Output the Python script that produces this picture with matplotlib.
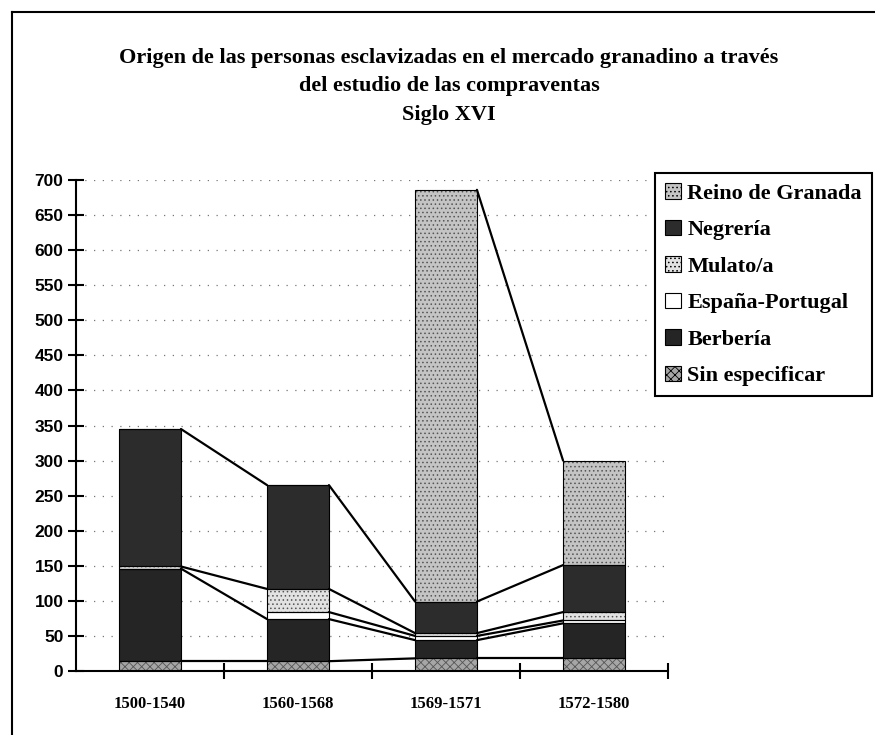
import matplotlib.pyplot as plt
import numpy as np
from matplotlib.patches import Patch
from matplotlib.lines import Line2D

# DATA
categories = ['1500-1540', '1560-1568', '1569-1571', '1572-1580']
sin_especificar = [14, 14, 18, 18]
berberia = [132, 60, 26, 50]
espana_portugal = [0, 10, 6, 4]
mulato = [3, 33, 4, 12]
negreria = [196, 148, 45, 67]
reino_granada = [0, 0, 587, 149]

series_names = ['Sin especificar', 'Berbería', 'España-Portugal',
                'Mulato/a', 'Negrería', 'Reino de Granada']
series_values = [sin_especificar, berberia, espana_portugal,
                 mulato, negreria, reino_granada]

# grey scan look
face = ['#a6a6a6', '#252525', '#ffffff', '#e2e2e2', '#2c2c2c', '#c4c4c4']
hatches = ['xxxx', None, None, '....', None, '....']

TITLE = ['Origen de las personas esclavizadas en el mercado granadino a través',
         'del estudio de las compraventas',
         'Siglo XVI']

plt.rcParams['hatch.color'] = '#555555'
plt.rcParams['hatch.linewidth'] = 0.6

W, H = 875, 735
fig = plt.figure(figsize=(W / 100, H / 100), dpi=100)
ax = fig.add_axes([76 / W, 1 - 671 / H, (668 - 76) / W, (671 - 180) / H])

x = np.arange(len(categories))
bw = 0.418
bottom = np.zeros(len(categories))
tops = []
for name, vals, fc, ht in zip(series_names, series_values, face, hatches):
    vals = np.array(vals, dtype=float)
    ax.bar(x, vals, bw, bottom=bottom, color=fc, hatch=ht, linewidth=0, zorder=2)
    ax.bar(x, vals, bw, bottom=bottom, facecolor='none', edgecolor='black',
           linewidth=0.8, zorder=3)
    bottom = bottom + vals
    tops.append((vals.copy(), bottom.copy()))

# series lines between bars (only where the series exists in both bars)
for vals, t in tops:
    for i in range(len(categories) - 1):
        if vals[i] == 0 or vals[i + 1] == 0:
            continue
        ax.plot([x[i] + bw / 2, x[i + 1] - bw / 2], [t[i], t[i + 1]],
                color='black', lw=1.6, zorder=4, solid_capstyle='round')

ax.set_xlim(-0.5, len(categories) - 0.5)
ax.set_ylim(0, 700)
ax.set_yticks(np.arange(0, 701, 50))
ax.yaxis.grid(True, color='#777777', linestyle=(0, (1, 6)), linewidth=0.9, zorder=0)
ax.set_axisbelow(True)

ax.set_xticks(x)
ax.set_xticklabels(categories, fontfamily='Liberation Serif', fontweight='bold', fontsize=12)
ax.set_xticks(np.arange(0.5, len(categories) - 0.4, 1), minor=True)
ax.tick_params(axis='x', which='major', length=0, pad=18)
ax.tick_params(axis='x', which='minor', direction='inout', length=12, width=1.5)
ax.tick_params(axis='y', direction='inout', length=12, width=1.5, pad=3)
for lab in ax.get_yticklabels():
    lab.set_fontfamily('Liberation Sans')
    lab.set_fontweight('bold')
    lab.set_fontsize(12.5)

for s in ['top', 'right']:
    ax.spines[s].set_visible(False)
for s in ['left', 'bottom']:
    ax.spines[s].set_linewidth(1.5)

# title
for k, line in enumerate(TITLE):
    fig.text(449 / W, 1 - (58 + 28.5 * k) / H, line, ha='center', va='center',
             fontfamily='Liberation Serif', fontweight='bold', fontsize=16)

# legend (top series first)
handles = [Patch(facecolor=face[j], hatch=hatches[j], edgecolor='black', linewidth=0.8)
           for j in range(len(series_names) - 1, -1, -1)]
labels = series_names[::-1]
leg = fig.legend(handles, labels, loc='upper left', bbox_to_anchor=(655 / W, 1 - 173 / H),
                 prop={'family': 'Liberation Serif', 'weight': 'bold', 'size': 16},
                 frameon=True, fancybox=False, framealpha=1, edgecolor='black',
                 handlelength=0.7, handleheight=0.7, handletextpad=0.3,
                 labelspacing=0.72, borderpad=0.45, borderaxespad=0)
leg.get_frame().set_linewidth(1.5)

# outer frame of the scanned page
fig.add_artist(Line2D([12 / W, 12 / W], [1 - 12 / H, 0], transform=fig.transFigure,
                      color='black', lw=1.5))
fig.add_artist(Line2D([12 / W, 1], [1 - 12 / H, 1 - 12 / H], transform=fig.transFigure,
                      color='black', lw=1.5))

fig.savefig('out.png', dpi=100)
